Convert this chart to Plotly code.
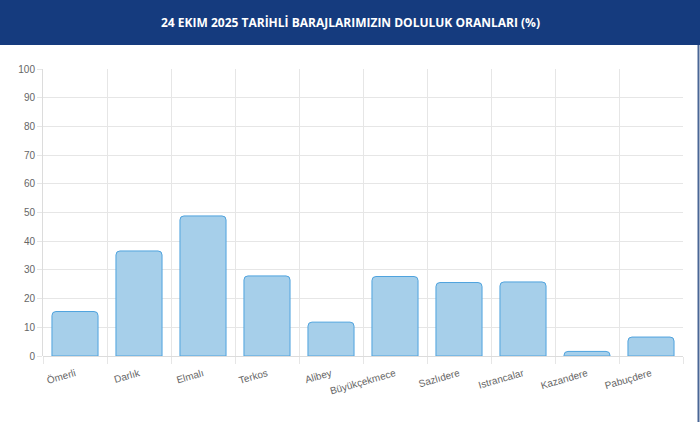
import plotly.graph_objects as go

# Baraj doluluk oranlari (24 Ekim 2025)
barajlar = ["Ömerli", "Darlık", "Elmalı", "Terkos", "Alibey", "Büyükçekmece",
            "Sazlıdere", "Istrancalar", "Kazandere", "Pabuçdere"]
doluluk = [15.5, 36.6, 48.8, 27.9, 11.8, 27.7, 25.6, 25.8, 1.6, 6.6]
y_ticks = [0, 10, 20, 30, 40, 50, 60, 70, 80, 90, 100]

title_text = "24 EKIM 2025 TARİHLİ BARAJLARIMIZIN DOLULUK ORANLARI (%)"

fig = go.Figure()
fig.add_trace(go.Bar(x=barajlar, y=doluluk,
                     marker=dict(color="#a6cfea",
                                 line=dict(color="#4fa3de", width=1),
                                 cornerradius=4),
                     width=0.72,
                     hoverinfo="x+y"))

fig.update_layout(
    width=700, height=422,
    margin=dict(l=43, r=17, t=69, b=66),
    paper_bgcolor="white",
    plot_bgcolor="white",
    showlegend=False,
    font=dict(family="Liberation Sans, Arial", size=10, color="#666666"),
    shapes=[
        # title band
        dict(type="rect", xref="paper", yref="paper",
             x0=-43/640, x1=657/640, y0=1 + 24/287, y1=1 + 69/287,
             fillcolor="#153b7e", line=dict(width=0), layer="below"),
        # right border
        dict(type="rect", xref="paper", yref="paper",
             x0=654.5/640, x1=656.5/640, y0=-66/287, y1=1 + 24/287,
             fillcolor="#4a6796", line=dict(width=0)),
    ],
    annotations=[
        dict(text="<b>" + title_text + "</b>", xref="paper", yref="paper",
             x=(350 - 43) / 640, y=1 + 47/287, xanchor="center", yanchor="middle",
             showarrow=False,
             font=dict(family="Open Sans", size=12, color="white")),
    ],
)

fig.update_xaxes(
    type="category",
    tickson="boundaries",
    showgrid=True, gridcolor="#e6e6e6", gridwidth=1,
    ticks="outside", ticklen=7, tickcolor="#e6e6e6",
    tickangle=-16,
    ticklabelstandoff=9,
    showline=False,
    zeroline=False,
    tickfont=dict(size=10, color="#666666"),
)
fig.update_yaxes(
    range=[0, 100],
    tickvals=y_ticks,
    showgrid=True, gridcolor="#e6e6e6", gridwidth=1,
    ticks="outside", ticklen=5, tickcolor="#e6e6e6",
    showline=True, linecolor="#dcdcdc", linewidth=1,
    zeroline=True, zerolinecolor="#dcdcdc", zerolinewidth=1,
    tickfont=dict(size=10, color="#666666"),
)

fig.write_html("out.html", config={"displayModeBar": False},
               post_script="document.body.style.margin='0';")
